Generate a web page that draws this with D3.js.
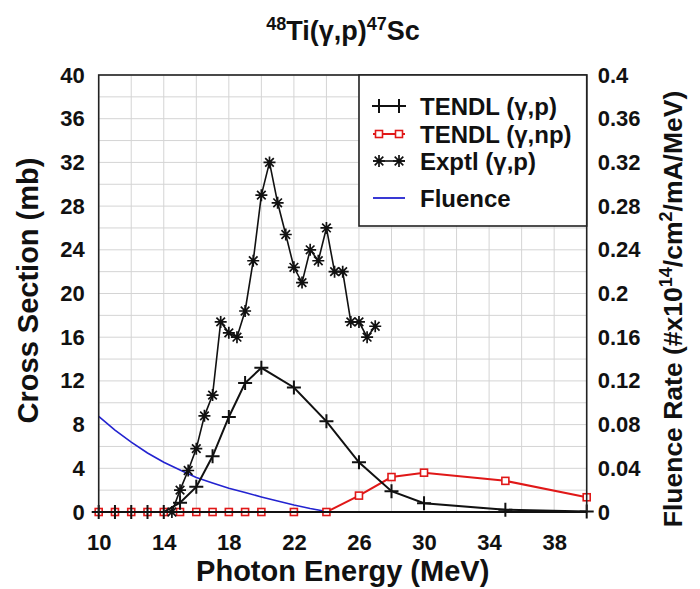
<!DOCTYPE html>
<html>
<head>
<meta charset="utf-8">
<script src="https://cdn.jsdelivr.net/npm/d3@7"></script>
<style>
  html, body { margin: 0; padding: 0; background: #fff; }
  svg text { font-family: "Liberation Sans", Arial, sans-serif; font-weight: bold; fill: #111; }
</style>
</head>
<body>
<svg id="chart" width="700" height="589"></svg>
<script>
// ---------------- DATA ----------------
const tendlEnergy = [10, 11, 12, 13, 14, 15, 16, 17, 18, 19, 20, 22, 24, 26, 28, 30, 35, 40];
const tendlP      = [0, 0, 0, 0, 0, 0.85, 2.3, 5.1, 8.7, 11.8, 13.2, 11.4, 8.3, 4.55, 1.9, 0.8, 0.2, 0.05];
const tendlNP     = [0, 0, 0, 0, 0, 0, 0, 0, 0, 0, 0, 0, 0, 1.5, 3.2, 3.6, 2.85, 1.35];

const exptlEnergy = [14.5, 15, 15.5, 16, 16.5, 17, 17.5, 18, 18.5, 19, 19.5, 20, 20.5, 21, 21.5, 22, 22.5, 23, 23.5, 24, 24.5, 25, 25.5, 26, 26.5, 27];
const exptlP      = [0, 2, 3.8, 5.8, 8.8, 10.7, 17.4, 16.4, 16, 18.4, 23, 29, 32, 28.3, 25.4, 22.4, 21, 24, 23, 26, 22, 22, 17.4, 17.4, 16, 17];

const fluenceEnergy = [10, 11, 12, 13, 14, 15, 16, 17, 18, 19, 20, 21, 22, 23, 24];
const fluence       = [0.0875, 0.075, 0.064, 0.054, 0.0455, 0.0385, 0.0315, 0.0265, 0.0218, 0.0178, 0.0138, 0.0100, 0.0064, 0.0032, 0.0004];

const xTicks = [10, 14, 18, 22, 26, 30, 34, 38];
const leftTicks = [0, 4, 8, 12, 16, 20, 24, 28, 32, 36, 40];
const rightTicks = [0, 0.04, 0.08, 0.12, 0.16, 0.2, 0.24, 0.28, 0.32, 0.36, 0.4];
const rightTickLabels = ["0", "0.04", "0.08", "0.12", "0.16", "0.2", "0.24", "0.28", "0.32", "0.36", "0.4"];

const legendLabels = ["TENDL (\u03B3,p)", "TENDL (\u03B3,np)", "Exptl (\u03B3,p)", "Fluence"];

// ---------------- LAYOUT ----------------
const svg = d3.select("#chart");
const L = 98.7, R = 586.7, T = 75, B = 512;

const x = d3.scaleLinear().domain([10, 40]).range([L, R]);
const yL = d3.scaleLinear().domain([0, 40]).range([B, T]);
const yR = d3.scaleLinear().domain([0, 0.4]).range([B, T]);

// grid
const grid = svg.append("g");
grid.selectAll("line.v").data(d3.range(10, 41, 2)).join("line")
  .attr("x1", d => x(d)).attr("x2", d => x(d)).attr("y1", T).attr("y2", B)
  .attr("stroke", "#d4d4d4").attr("stroke-width", 1);
grid.selectAll("line.h").data(d3.range(0, 41, 2)).join("line")
  .attr("y1", d => yL(d)).attr("y2", d => yL(d)).attr("x1", L).attr("x2", R)
  .attr("stroke", "#d4d4d4").attr("stroke-width", 1);

// axes
const axL = svg.append("g").attr("transform", `translate(${L},0)`)
  .call(d3.axisLeft(yL).tickValues(leftTicks).tickSize(0).tickPadding(14));
const axR = svg.append("g").attr("transform", `translate(${R},0)`)
  .call(d3.axisRight(yR).tickValues(rightTicks).tickSize(0).tickPadding(11)
    .tickFormat((d, i) => rightTickLabels[i]));
const axB = svg.append("g").attr("transform", `translate(0,${B})`)
  .call(d3.axisBottom(x).tickValues(xTicks).tickSize(0).tickPadding(22));
[axL, axR, axB].forEach(g => {
  g.select(".domain").remove();
  g.selectAll("text").style("font-family", "'Liberation Sans', Arial, sans-serif")
    .style("font-weight", "bold").style("font-size", "22px").attr("fill", "#111");
});

// series
const lineL = d3.line().x(d => x(d[0])).y(d => yL(d[1]));
const lineR = d3.line().x(d => x(d[0])).y(d => yR(d[1]));

const fluPts = fluenceEnergy.map((e, i) => [e, fluence[i]]);
const npPts = tendlEnergy.map((e, i) => [e, tendlNP[i]]);
const pPts = tendlEnergy.map((e, i) => [e, tendlP[i]]);
const exPts = exptlEnergy.map((e, i) => [e, exptlP[i]]);

const plot = svg.append("g");
plot.append("path").datum(fluPts).attr("d", lineR)
  .attr("fill", "none").attr("stroke", "#2323d0").attr("stroke-width", 1.6);

const sq = 7;
function drawSquares(g, pts) {
  g.selectAll("rect.sq").data(pts).join("rect")
    .attr("x", d => x(d[0]) - sq / 2).attr("y", d => yL(d[1]) - sq / 2)
    .attr("width", sq).attr("height", sq)
    .attr("fill", "#fff").attr("stroke", "#e01818").attr("stroke-width", 1.6);
}
const plusPath = "M-7,0H7M0,-7V7";
const starPath = "M-6,0H6M0,-6V6M-4.3,-4.3L4.3,4.3M-4.3,4.3L4.3,-4.3";

plot.append("path").datum(npPts).attr("d", lineL)
  .attr("fill", "none").attr("stroke", "#e01818").attr("stroke-width", 2);
drawSquares(plot.append("g"), npPts);

plot.append("path").datum(pPts).attr("d", lineL)
  .attr("fill", "none").attr("stroke", "#111").attr("stroke-width", 2);
plot.append("g").selectAll("path").data(pPts).join("path")
  .attr("transform", d => `translate(${x(d[0])},${yL(d[1])})`)
  .attr("d", plusPath).attr("stroke", "#111").attr("stroke-width", 2).attr("fill", "none");

plot.append("path").datum(exPts).attr("d", lineL)
  .attr("fill", "none").attr("stroke", "#111").attr("stroke-width", 1.6);
plot.append("g").selectAll("path").data(exPts).join("path")
  .attr("transform", d => `translate(${x(d[0])},${yL(d[1])})`)
  .attr("d", starPath).attr("stroke", "#111").attr("stroke-width", 1.7).attr("fill", "none");

// frame
svg.append("rect").attr("x", L).attr("y", T).attr("width", R - L).attr("height", B - T)
  .attr("fill", "none").attr("stroke", "#222").attr("stroke-width", 1.6);
svg.append("line").attr("x1", L).attr("x2", R).attr("y1", B).attr("y2", B)
  .attr("stroke", "#111").attr("stroke-width", 2.2);

// legend
const lg = svg.append("g");
lg.append("rect").attr("x", 359).attr("y", T).attr("width", R - 359).attr("height", 151)
  .attr("fill", "#fff").attr("stroke", "#222").attr("stroke-width", 1.6);
const rowsY = [106, 134, 161, 198];
const sx1 = 373, sx2 = 405, m1 = 379, m2 = 399;
// row 1
lg.append("line").attr("x1", sx1).attr("x2", sx2).attr("y1", rowsY[0]).attr("y2", rowsY[0]).attr("stroke", "#111").attr("stroke-width", 2);
[m1, m2].forEach(m => lg.append("path").attr("transform", `translate(${m},${rowsY[0]})`).attr("d", plusPath).attr("stroke", "#111").attr("stroke-width", 2));
// row 2
lg.append("line").attr("x1", sx1).attr("x2", sx2).attr("y1", rowsY[1]).attr("y2", rowsY[1]).attr("stroke", "#e01818").attr("stroke-width", 2);
[m1, m2].forEach(m => lg.append("rect").attr("x", m - sq / 2).attr("y", rowsY[1] - sq / 2).attr("width", sq).attr("height", sq)
  .attr("fill", "#fff").attr("stroke", "#e01818").attr("stroke-width", 1.6));
// row 3
lg.append("line").attr("x1", sx1).attr("x2", sx2).attr("y1", rowsY[2]).attr("y2", rowsY[2]).attr("stroke", "#111").attr("stroke-width", 1.6);
[m1, m2].forEach(m => lg.append("path").attr("transform", `translate(${m},${rowsY[2]})`).attr("d", starPath).attr("stroke", "#111").attr("stroke-width", 1.7));
// row 4
lg.append("line").attr("x1", sx1).attr("x2", sx2).attr("y1", rowsY[3]).attr("y2", rowsY[3]).attr("stroke", "#2323d0").attr("stroke-width", 1.8);
lg.selectAll("text").data(legendLabels).join("text")
  .attr("x", 420).attr("y", (d, i) => rowsY[i]).attr("dy", "0.36em")
  .style("font-size", "24px").text(d => d);

// title
const title = svg.append("text").attr("x", 343).attr("y", 40).attr("text-anchor", "middle").style("font-size", "27px");
title.append("tspan").style("font-size", "18px").attr("dy", "-10").text("48");
title.append("tspan").attr("dy", "10").text("Ti(\u03B3,p)");
title.append("tspan").style("font-size", "18px").attr("dy", "-10").text("47");
title.append("tspan").attr("dy", "10").text("Sc");

// axis titles
svg.append("text").attr("x", (L + R) / 2).attr("y", 581).attr("text-anchor", "middle")
  .style("font-size", "29px").text("Photon Energy (MeV)");
svg.append("text").attr("transform", `translate(38,${(T + B) / 2 - 3}) rotate(-90)`).attr("text-anchor", "middle")
  .style("font-size", "29px").text("Cross Section (mb)");
const rt = svg.append("text").attr("transform", `translate(682,309) rotate(-90)`).attr("text-anchor", "middle")
  .style("font-size", "26.5px");
rt.append("tspan").text("Fluence Rate (#x10");
rt.append("tspan").style("font-size", "18px").attr("dy", "-10").text("14");
rt.append("tspan").attr("dy", "10").text("/cm");
rt.append("tspan").style("font-size", "18px").attr("dy", "-10").text("2");
rt.append("tspan").attr("dy", "10").text("/mA/MeV)");
</script>
</body>
</html>
